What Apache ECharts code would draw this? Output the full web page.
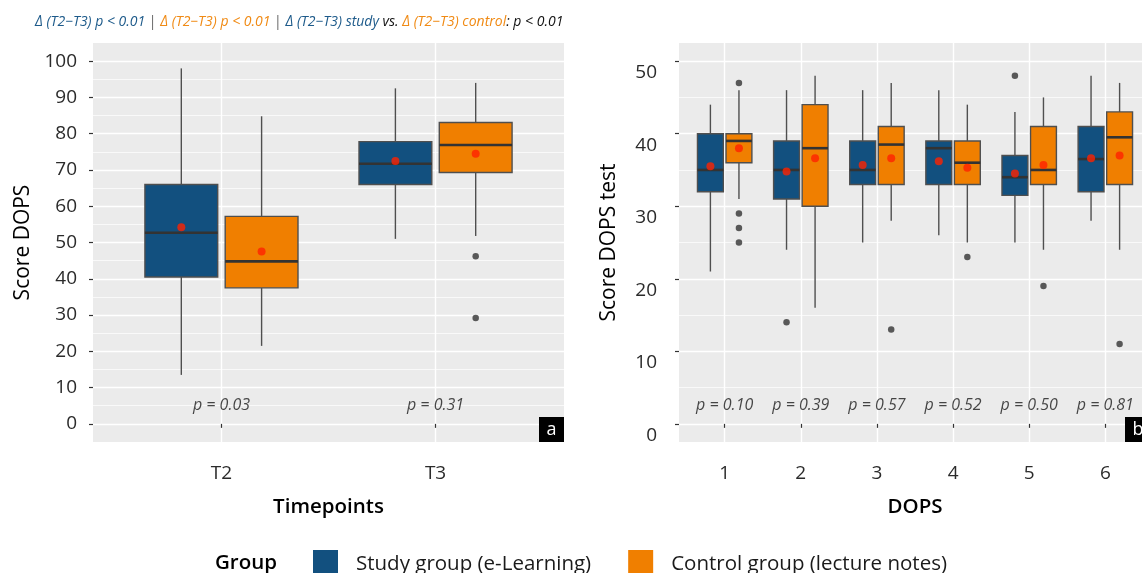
<!DOCTYPE html>
<html>
<head>
<meta charset="utf-8">
<script src="https://cdn.jsdelivr.net/npm/echarts@6/dist/echarts.min.js"></script>
<style>
  html, body { margin: 0; padding: 0; background: #fff; }
  #chart { width: 1142px; height: 573px; }
</style>
</head>
<body>
<div id="chart"></div>
<script>
// panel a: DOPS score per timepoint, box = [min, q1, median, q3, max]
const timepoints = ['T2', 'T3']
const tpStudyBox = [[13.5, 40.5, 52.7, 66, 98], [51, 66, 71.7, 77.8, 92.5]]
const tpControlBox = [[21.5, 37.5, 44.8, 57.2, 84.8], [51.8, 69.3, 76.9, 83.1, 94]]
const tpStudyMean = [54.2, 72.5]
const tpControlMean = [47.5, 74.5]
const tpStudyOutliers = []
const tpControlOutliers = [[2, 46.2], [2, 29.2]]
const tpPValues = ['p = 0.03', 'p = 0.31']

// panel b: DOPS test score per DOPS
const dopsCats = ['1', '2', '3', '4', '5', '6']
const dopsStudyBox = [
  [21, 32, 35, 40, 44],
  [24, 31, 35, 39, 46],
  [25, 33, 35, 39, 46],
  [26, 33, 38, 39, 46],
  [25, 31.5, 34, 37, 43],
  [28, 32, 36.5, 41, 48]
]
const dopsControlBox = [
  [31, 36, 39, 40, 46],
  [16, 30, 38, 44, 48],
  [28, 33, 38.5, 41, 47],
  [25, 33, 36, 39, 44],
  [24, 33, 35, 41, 45],
  [24, 33, 39.5, 43, 47]
]
const dopsStudyMean = [35.5, 34.8, 35.7, 36.2, 34.5, 36.6]
const dopsControlMean = [38.0, 36.6, 36.6, 35.3, 35.7, 37.0]
const dopsStudyOutliers = [[2, 14], [5, 48]]
const dopsControlOutliers = [[1, 47], [1, 29], [1, 27], [1, 25], [3, 13], [4, 23], [5, 19], [6, 11]]
const dopsPValues = ['p = 0.10', 'p = 0.39', 'p = 0.57', 'p = 0.52', 'p = 0.50', 'p = 0.81']

const STUDY = 'Study group (e-Learning)'
const CONTROL = 'Control group (lecture notes)'
const BLUE = '#12507f'
const ORANGE = '#f07f00'
const FONT = "'Open Sans', 'Noto Sans', sans-serif"
const DODGE = 0.1875
const BOX_W = 0.34

const chart = echarts.init(document.getElementById('chart'))

function boxSeries(name, idx, boxes, offset, color) {
  return {
    name,
    type: 'custom',
    xAxisIndex: idx,
    yAxisIndex: idx * 2,
    itemStyle: { color },
    data: boxes.map((b, i) => [i + 1 + offset, ...b]),
    encode: { x: 0, y: [1, 2, 3, 4, 5] },
    z: 3,
    renderItem(params, api) {
      const x = api.value(0)
      const w = api.size([BOX_W, 0])[0]
      const pMin = api.coord([x, api.value(1)])
      const pQ1 = api.coord([x, api.value(2)])
      const pMed = api.coord([x, api.value(3)])
      const pQ3 = api.coord([x, api.value(4)])
      const pMax = api.coord([x, api.value(5)])
      const line = { stroke: '#4f4f4f', lineWidth: 1.4 }
      return {
        type: 'group',
        children: [
          { type: 'line', shape: { x1: pMax[0], y1: pMax[1], x2: pQ3[0], y2: pQ3[1] }, style: line },
          { type: 'line', shape: { x1: pMin[0], y1: pMin[1], x2: pQ1[0], y2: pQ1[1] }, style: line },
          {
            type: 'rect',
            shape: { x: pQ3[0] - w / 2, y: pQ3[1], width: w, height: pQ1[1] - pQ3[1] },
            style: { fill: color, stroke: '#4f4f4f', lineWidth: 1.4 }
          },
          {
            type: 'line',
            shape: { x1: pMed[0] - w / 2, y1: pMed[1], x2: pMed[0] + w / 2, y2: pMed[1] },
            style: { stroke: '#333', lineWidth: 2.6 }
          }
        ]
      }
    }
  }
}

function meanSeries(name, idx, means, offset) {
  return {
    name, type: 'scatter', xAxisIndex: idx, yAxisIndex: idx * 2,
    data: means.map((m, i) => [i + 1 + offset, m]),
    symbolSize: 8, itemStyle: { color: '#ff2200' }, z: 5, silent: true
  }
}

function outlierSeries(name, idx, pts, offset) {
  return {
    name, type: 'scatter', xAxisIndex: idx, yAxisIndex: idx * 2,
    data: pts.map(p => [p[0] + offset, p[1]]),
    symbolSize: 6.5, itemStyle: { color: '#333' }, z: 4, silent: true
  }
}

function pSeries(idx, labels, y) {
  return {
    type: 'scatter', xAxisIndex: idx, yAxisIndex: idx * 2,
    data: labels.map((t, i) => ({ value: [i + 1, y], label: { formatter: t } })),
    symbolSize: 0, silent: true,
    label: { show: true, position: 'inside', fontFamily: FONT, fontSize: 16, fontStyle: 'italic', color: '#1a1a1a' }
  }
}

function xAxis(idx, names, max, title) {
  const vals = names.map((_, i) => i + 1)
  return {
    type: 'value', gridIndex: idx, min: 0.4, max,
    axisLine: { show: false },
    axisTick: { show: true, length: 4, customValues: vals, lineStyle: { color: '#333', width: 1.2 } },
    axisLabel: {
      customValues: vals, margin: 22,
      formatter: v => names[Math.round(v) - 1],
      fontFamily: FONT, fontSize: 19, color: '#2b2b2b'
    },
    splitLine: { show: true, lineStyle: { color: '#fff', width: 1.4 } },
    name: title, nameLocation: 'middle', nameGap: 55,
    nameTextStyle: { fontFamily: FONT, fontSize: 20.5, fontWeight: 600, color: '#000' }
  }
}

function yAxes(idx, min, max, major, minor, title, labelOpt) {
  return [
    {
      type: 'value', gridIndex: idx, min, max,
      axisLine: { show: false },
      axisTick: { show: true, length: 4, customValues: major, lineStyle: { color: '#333', width: 1.2 } },
      axisLabel: Object.assign({ customValues: major, fontFamily: FONT, fontSize: 19, color: '#2b2b2b' }, labelOpt),
      splitLine: { show: true, lineStyle: { color: '#fff', width: 1.4 } },
      name: title, nameLocation: 'middle', nameGap: 59,
      nameTextStyle: { fontFamily: FONT, fontSize: 21, fontWeight: 'normal', color: '#000' }
    },
    {
      type: 'value', gridIndex: idx, min, max, position: 'left',
      axisLine: { show: false }, axisLabel: { show: false },
      axisTick: { show: false, customValues: minor },
      splitLine: { show: true, lineStyle: { color: '#fff', width: 0.7 } }
    }
  ]
}

const tpMajor = [0, 10, 20, 30, 40, 50, 60, 70, 80, 90, 100]
const tpMinor = [5, 15, 25, 35, 45, 55, 65, 75, 85, 95]
const dopsMajor = [0, 10, 20, 30, 40, 50]
const dopsMinor = [5, 15, 25, 35, 45]

const titleStyle = { fontFamily: FONT, fontSize: 14, fontStyle: 'italic', fontWeight: 'normal' }

const option = {
  backgroundColor: '#fff',
  animation: false,
  title: {
    left: 30, top: 10,
    text: '{b|Δ (T2−T3) p < 0.01} {g||} {o|Δ (T2−T3) p < 0.01} {g||} {b|Δ (T2−T3) study} {k|vs.} {o|Δ (T2−T3) control}{k|: p < 0.01}',
    textStyle: Object.assign({
      rich: {
        b: Object.assign({ color: '#1d5a8a' }, titleStyle),
        o: Object.assign({ color: '#f08a14' }, titleStyle),
        g: Object.assign({}, titleStyle, { color: '#666', fontStyle: 'normal' }),
        k: Object.assign({ color: '#111' }, titleStyle)
      }
    }, titleStyle)
  },
  legend: {
    left: 313, top: 550, padding: 0,
    itemWidth: 25, itemHeight: 28, itemGap: 37,
    icon: 'rect',
    data: [STUDY, CONTROL],
    textStyle: { fontFamily: FONT, fontSize: 20.5, color: '#1a1a1a', padding: [0, 0, 0, 13] }
  },
  grid: [
    { left: 93, top: 43, width: 471, height: 399, show: true, backgroundColor: '#ebebeb', borderWidth: 0, outerBoundsMode: 'none' },
    { left: 679, top: 43, width: 472, height: 399, show: true, backgroundColor: '#ebebeb', borderWidth: 0, outerBoundsMode: 'none' }
  ],
  xAxis: [
    xAxis(0, timepoints, 2.6, 'Timepoints'),
    xAxis(1, dopsCats, 6.6, 'DOPS')
  ],
  yAxis: [
    ...yAxes(0, -5, 105, tpMajor, tpMinor, 'Score DOPS', { margin: 16 }),
    ...yAxes(1, -2.5, 52.5, dopsMajor, dopsMinor, 'Score DOPS test', { margin: 22, verticalAlign: 'top', padding: [2, 0, 0, 0] })
  ],
  graphic: [
    { type: 'text', left: 215, top: 553, style: { text: 'Group', fontFamily: FONT, fontSize: 20.5, fontWeight: 600, fill: '#000' } },
    { type: 'rect', shape: { x: 539, y: 417, width: 25, height: 25 }, style: { fill: '#000' }, z: 10 },
    { type: 'text', x: 551.5, y: 429.5, style: { text: 'a', fontFamily: FONT, fontSize: 18, fill: '#fff', align: 'center', verticalAlign: 'middle' }, z: 11 },
    { type: 'rect', shape: { x: 1125, y: 417, width: 26, height: 25 }, style: { fill: '#000' }, z: 10 },
    { type: 'text', x: 1138, y: 429.5, style: { text: 'b', fontFamily: FONT, fontSize: 18, fill: '#fff', align: 'center', verticalAlign: 'middle' }, z: 11 }
  ],
  series: [
    boxSeries(STUDY, 0, tpStudyBox, -DODGE, BLUE),
    boxSeries(CONTROL, 0, tpControlBox, DODGE, ORANGE),
    meanSeries(STUDY, 0, tpStudyMean, -DODGE),
    meanSeries(CONTROL, 0, tpControlMean, DODGE),
    outlierSeries(STUDY, 0, tpStudyOutliers, -DODGE),
    outlierSeries(CONTROL, 0, tpControlOutliers, DODGE),
    pSeries(0, tpPValues, 5),
    boxSeries(STUDY, 1, dopsStudyBox, -DODGE, BLUE),
    boxSeries(CONTROL, 1, dopsControlBox, DODGE, ORANGE),
    meanSeries(STUDY, 1, dopsStudyMean, -DODGE),
    meanSeries(CONTROL, 1, dopsControlMean, DODGE),
    outlierSeries(STUDY, 1, dopsStudyOutliers, -DODGE),
    outlierSeries(CONTROL, 1, dopsControlOutliers, DODGE),
    pSeries(1, dopsPValues, 2.5)
  ]
}

chart.setOption(option)
</script>
</body>
</html>
